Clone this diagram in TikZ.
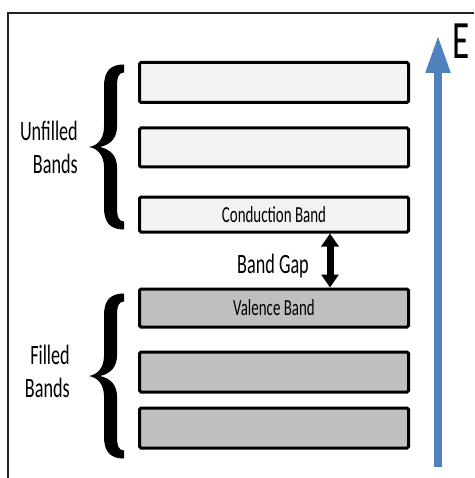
\documentclass[tikz,border=0pt]{standalone}
\usepackage{fontspec}
\setmainfont{Carlito}
\newfontfamily\narrowfont[FakeStretch=0.65]{Carlito}
\usetikzlibrary{arrows.meta}
\definecolor{bandlight}{HTML}{F2F2F2}
\definecolor{banddark}{HTML}{BFBFBF}
\definecolor{energyblue}{HTML}{4F81BD}
\definecolor{framegray}{HTML}{222222}

\tikzset{
  % curly brace drawn as a filled outline, 165pt tall
  bandbrace/.pic={
    \fill[black]
      (124,0) .. controls (111,0) and (104,6) .. (104,22)
      -- (104,62) .. controls (104,74) and (98,81) .. (89,82.5)
      .. controls (98,84) and (104,91) .. (104,103)
      -- (104,143) .. controls (104,159) and (111,165) .. (124,165)
      -- (124,157) .. controls (119,157) and (117,153) .. (117,143)
      -- (117,103) .. controls (117,92) and (111,85) .. (100,82.5)
      .. controls (111,80) and (117,73) .. (117,62)
      -- (117,22) .. controls (117,12) and (119,8) .. (124,8) -- cycle;
  }
}

\begin{document}
\begin{tikzpicture}[x=1pt,y=-1pt,
  band/.style={draw=black, line width=3pt, rounded corners=1.5pt,
    minimum width=269pt, inner sep=0pt,
    font=\narrowfont\fontsize{23}{26}\selectfont},
  emptyband/.style={band, fill=bandlight},
  fullband/.style={band, fill=banddark},
  sidelabel/.style={anchor=base east, align=right, inner sep=0pt,
    font=\narrowfont\fontsize{28}{33}\selectfont},
  gaplabel/.style={anchor=base west, inner sep=0pt,
    font=\narrowfont\fontsize{28}{34}\selectfont},
  gaparrow/.style={line width=7pt,
    {Triangle[width=17pt,length=13pt]}-{Triangle[width=17pt,length=13pt]}},
  energyarrow/.style={draw=energyblue, line width=8pt,
    -{Triangle[width=23pt,length=38pt]}, energyblue},
]
\useasboundingbox (0,0) rectangle (474,478);

% frame
\draw[framegray, line width=1.5pt] (8,478) -- (8,13) -- (474,13);

% energy bands
\node[emptyband, minimum height=40pt] (b1) at (274,82.5) {};
\node[emptyband, minimum height=39pt] (b2) at (274,147.5) {};
\node[emptyband, minimum height=35pt] (b3) at (274,214.5) {Conduction Band};
\node[fullband, minimum height=38pt] (b4) at (274,308) {Valence Band};
\node[fullband, minimum height=40pt] (b5) at (274,372) {};
\node[fullband, minimum height=40pt] (b6) at (274,428) {};

% band gap
\coordinate (gx) at (330,0);
\draw[gaparrow] (b3.south -| gx) -- (b4.north -| gx);
\node[gaplabel] (gap) at (237,273) {Band Gap};

% braces and their labels (base anchor sits on the last line)
\pic at (0,64.5) {bandbrace};
\pic at (0,293.5) {bandbrace};
\node[sidelabel] (unfilled) at (78,174) {Unfilled\\Bands};
\node[sidelabel] (filled) at (70,397) {Filled\\Bands};

% energy axis
\coordinate (ebottom) at (438,467);
\coordinate (etop) at (438,35);
\draw[energyarrow] (ebottom) -- (etop);
\node[anchor=base, inner sep=0pt, font=\narrowfont\fontsize{54}{60}\selectfont]
  (elabel) at (461,59) {E};
\end{tikzpicture}
\end{document}
